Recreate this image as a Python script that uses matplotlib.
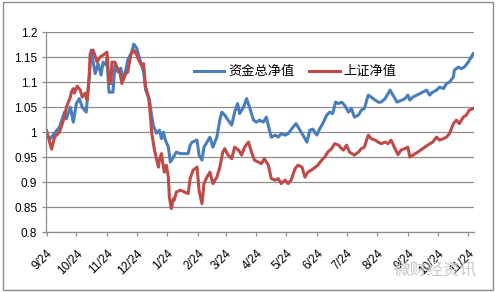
import matplotlib
matplotlib.use("Agg")
import matplotlib.pyplot as plt
import pandas as pd
from matplotlib.patches import Rectangle

plt.rcParams['font.family'] = ['Liberation Sans', 'Noto Sans CJK SC']

# days counted from the first date on the axis (9/24)
start_date = "2009-09-24"

fund_days = [0, 3, 8, 13, 18, 20, 24, 27, 30, 33, 36, 40, 43, 45, 49, 52, 55, 57, 60, 61,
             63, 67, 69, 72, 75, 77, 80, 82, 86, 88, 91, 94, 98, 100, 104, 106, 108, 111, 114, 116,
             118, 120, 123, 125, 128, 131, 135, 143, 145, 147, 152, 154, 157, 159, 162, 165, 168, 172, 175, 177,
             180, 183, 187, 190, 193, 195, 199, 202, 205, 209, 212, 215, 219, 222, 226, 227, 231, 234, 237, 241,
             244, 249, 252, 256, 259, 263, 266, 269, 273, 276, 279, 283, 286, 289, 292, 295, 298, 301, 305, 308,
             311, 315, 318, 321, 325, 328, 332, 335, 338, 342, 345, 347, 350, 354, 359, 362, 365, 367, 370, 374,
             379, 384, 387, 390, 394, 397, 401, 404, 407, 411, 412, 416, 419, 422, 426, 429, 431]
fund_nav = [0.998, 0.985, 0.998, 1.010, 1.040, 1.027, 1.050, 1.020, 1.057, 1.067, 1.050, 1.040, 1.110, 1.164, 1.117, 1.137, 1.114, 1.140, 1.134, 1.147,
            1.080, 1.080, 1.134, 1.120, 1.128, 1.105, 1.124, 1.144, 1.160, 1.176, 1.168, 1.147, 1.120, 1.085, 1.064, 1.034, 1.012, 0.998, 1.004, 0.987,
            1.000, 0.984, 0.970, 0.940, 0.950, 0.960, 0.957, 0.957, 0.974, 0.980, 0.984, 0.954, 0.944, 0.970, 0.980, 0.990, 0.970, 0.990, 1.024, 1.040,
            1.034, 1.025, 1.014, 1.040, 1.057, 1.037, 1.050, 1.067, 1.050, 1.024, 1.020, 1.024, 1.020, 1.030, 0.997, 0.990, 0.994, 0.990, 0.997, 0.994,
            0.997, 1.010, 1.017, 1.004, 0.994, 0.980, 1.004, 1.006, 0.994, 1.007, 1.017, 1.034, 1.040, 1.037, 1.060, 1.057, 1.060, 1.054, 1.040, 1.047,
            1.030, 1.034, 1.044, 1.047, 1.074, 1.070, 1.064, 1.060, 1.060, 1.067, 1.077, 1.084, 1.074, 1.060, 1.064, 1.067, 1.074, 1.064, 1.070, 1.074,
            1.079, 1.084, 1.074, 1.080, 1.084, 1.090, 1.087, 1.097, 1.100, 1.110, 1.124, 1.130, 1.127, 1.130, 1.140, 1.150, 1.157]

index_days = [0, 3, 5, 8, 13, 18, 20, 24, 25, 27, 28, 31, 34, 36, 39, 41, 43, 44, 47, 51,
              54, 57, 61, 63, 65, 66, 69, 71, 74, 76, 80, 82, 85, 88, 91, 93, 97, 98, 100, 103,
              105, 106, 109, 111, 113, 114, 116, 118, 119, 121, 123, 124, 126, 128, 129, 131, 135, 143, 145, 148,
              152, 154, 157, 159, 162, 165, 168, 172, 175, 178, 180, 183, 187, 190, 194, 197, 200, 204, 207, 210,
              214, 217, 220, 224, 227, 231, 234, 237, 241, 244, 247, 251, 254, 258, 261, 264, 269, 274, 278, 281,
              284, 288, 291, 295, 298, 300, 303, 306, 311, 315, 318, 321, 325, 328, 332, 335, 338, 342, 345, 348,
              352, 355, 358, 362, 365, 367, 370, 375, 380, 385, 390, 394, 397, 401, 404, 407, 411, 414, 417, 421,
              424, 427, 431]
index_nav = [1.003, 0.980, 0.966, 0.990, 1.000, 1.030, 1.050, 1.070, 1.080, 1.087, 1.078, 1.092, 1.084, 1.070, 1.078, 1.064, 1.110, 1.157, 1.164, 1.140,
             1.150, 1.154, 1.160, 1.100, 1.097, 1.140, 1.140, 1.130, 1.120, 1.097, 1.117, 1.120, 1.154, 1.164, 1.155, 1.144, 1.130, 1.137, 1.090, 1.070,
             1.030, 1.000, 0.964, 0.947, 0.930, 0.944, 0.957, 0.930, 0.920, 0.934, 0.910, 0.870, 0.847, 0.867, 0.864, 0.880, 0.884, 0.877, 0.907, 0.924,
             0.930, 0.884, 0.857, 0.897, 0.910, 0.920, 0.897, 0.910, 0.930, 0.960, 0.967, 0.955, 0.947, 0.970, 0.964, 0.954, 0.970, 0.980, 0.960, 0.944,
             0.940, 0.937, 0.947, 0.934, 0.907, 0.904, 0.907, 0.897, 0.904, 0.897, 0.904, 0.927, 0.934, 0.930, 0.910, 0.920, 0.926, 0.934, 0.944, 0.950,
             0.960, 0.967, 0.977, 0.974, 0.967, 0.964, 0.974, 0.960, 0.954, 0.960, 0.967, 0.970, 0.994, 0.987, 0.984, 0.980, 0.977, 0.980, 0.977, 0.984,
             0.967, 0.955, 0.964, 0.967, 0.970, 0.950, 0.954, 0.960, 0.967, 0.974, 0.980, 0.990, 0.984, 0.987, 0.990, 0.997, 1.017, 1.024, 1.017, 1.030,
             1.034, 1.044, 1.047]

series_names = ["资金总净值", "上证净值"]
y_ticks = [0.8, 0.85, 0.9, 0.95, 1.0, 1.05, 1.1, 1.15, 1.2]

# month ticks, 9/24 through 11/24 of the following year
tick_dates = pd.date_range(start_date, periods=15, freq=pd.DateOffset(months=1))
tick_pos = [(d - pd.Timestamp(start_date)).days for d in tick_dates]
tick_labels = [f"{d.month}/24" for d in tick_dates]

fig = plt.figure(figsize=(4.96, 2.92), dpi=100)
ax = fig.add_axes([0.093, 0.205, 0.863, 0.685])

ax.plot(fund_days, fund_nav, color="#4A7EBB", lw=2.2, label=series_names[0], solid_joinstyle="round")
ax.plot(index_days, index_nav, color="#BE4B48", lw=2.2, label=series_names[1], solid_joinstyle="round")

ax.set_ylim(0.8, 1.2)
ax.set_xlim(-0.5, 432)
ax.set_yticks(y_ticks)
ax.set_yticklabels([f"{v:g}" for v in y_ticks])
ax.set_xticks(tick_pos)
ax.set_xticklabels(tick_labels, rotation=45, ha="right", rotation_mode="anchor")

ax.grid(axis="y", color="#8c8c8c", lw=0.9)
ax.set_axisbelow(True)
for side in ["top", "right"]:
    ax.spines[side].set_visible(False)
for side in ["left", "bottom"]:
    ax.spines[side].set_color("#8c8c8c")
    ax.spines[side].set_linewidth(0.9)
ax.tick_params(axis="both", colors="#8c8c8c", labelcolor="black", labelsize=8.5, length=3, width=0.9)
ax.tick_params(axis="x", pad=8)

ax.legend(loc="upper left", bbox_to_anchor=(0.318, 0.89), ncol=2, frameon=False,
          fontsize=9.5, handlelength=2.3, columnspacing=1.1, handletextpad=0.3)

# watermark
fig.text(0.962, 0.075, "微财经资讯", color="#c8c8c8", fontsize=12, ha="right", va="center")

# chart border
fig.patches.append(Rectangle((0.006, 0.008), 0.988, 0.984, transform=fig.transFigure,
                             fill=False, edgecolor="#8c8c8c", lw=1.0))

fig.savefig("out.png", dpi=100)
